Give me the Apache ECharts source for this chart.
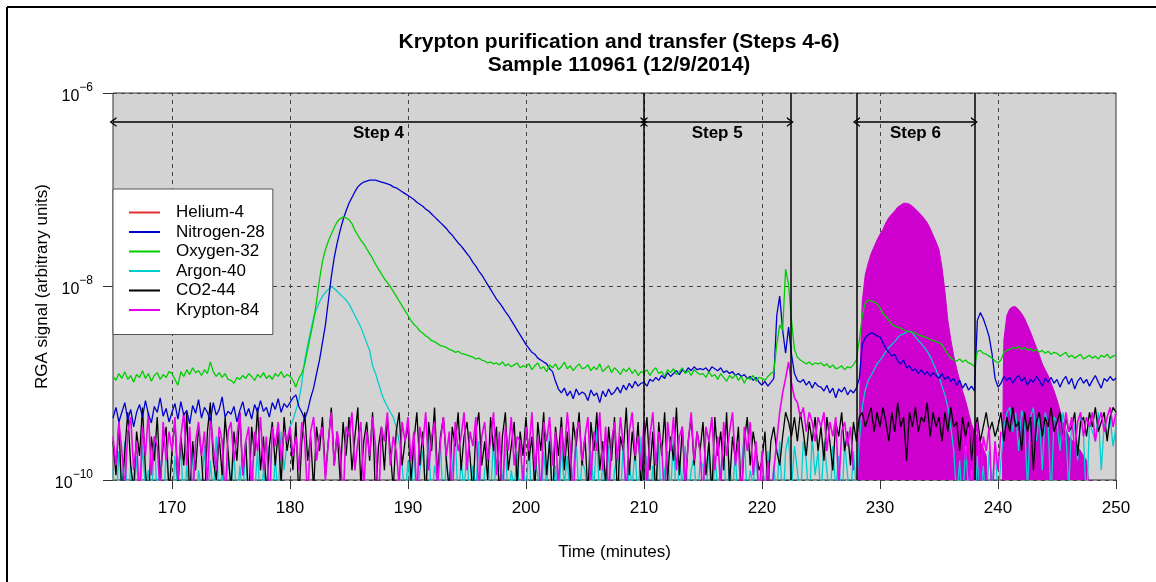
<!DOCTYPE html>
<html>
<head>
<meta charset="utf-8">
<script src="https://cdn.jsdelivr.net/npm/echarts@6/dist/echarts.min.js"></script>
<style>
  html, body { margin: 0; padding: 0; background: #fff; }
  #chart { width: 1156px; height: 582px; }
</style>
</head>
<body>
<div id="chart"></div>
<script>
// sampling of the RGA scans: one reading every quarter minute from 165 to 250 min
const startMinute = 165
const stepMinute = 0.25

// series values, stored as log10 of the signal (one row = 5 minutes)
const heliumLog = []

const nitrogenLog = [
  -9.36,-9.25,-9.4,-9.3,-9.2,-9.38,-9.27,-9.45,-9.3,-9.22,-9.35,-9.18,-9.32,-9.41,-9.24,-9.3,-9.15,-9.34,-9.26,-9.4, //165
  -9.3,-9.21,-9.37,-9.19,-9.33,-9.28,-9.42,-9.23,-9.31,-9.17,-9.36,-9.25,-9.3,-9.39,-9.2,-9.33,-9.27,-9.14,-9.35,-9.29, //170
  -9.32,-9.24,-9.4,-9.28,-9.19,-9.34,-9.26,-9.37,-9.22,-9.3,-9.18,-9.29,-9.25,-9.35,-9.2,-9.27,-9.16,-9.3,-9.21,-9.25, //175
  -9.2,-9.15,-9.12,-9.24,-9.3,-9.37,-9.28,-9.15,-9.05,-8.9,-8.76,-8.58,-8.4,-8.15,-7.9,-7.7,-7.55,-7.42,-7.31,-7.22, //180
  -7.14,-7.08,-7.02,-6.97,-6.94,-6.92,-6.91,-6.9,-6.9,-6.9,-6.91,-6.92,-6.93,-6.94,-6.95,-6.97,-6.98,-7.0,-7.02,-7.04, //185
  -7.06,-7.08,-7.1,-7.13,-7.15,-7.17,-7.2,-7.22,-7.25,-7.28,-7.31,-7.34,-7.37,-7.4,-7.44,-7.47,-7.51,-7.55,-7.58,-7.62, //190
  -7.66,-7.7,-7.75,-7.79,-7.84,-7.88,-7.93,-7.98,-8.03,-8.08,-8.13,-8.17,-8.21,-8.26,-8.3,-8.35,-8.4,-8.45,-8.5,-8.55, //195
  -8.6,-8.64,-8.68,-8.7,-8.74,-8.76,-8.78,-8.8,-8.85,-8.88,-8.98,-9.06,-9.1,-9.05,-9.13,-9.08,-9.16,-9.06,-9.12,-9.09, //200
  -9.11,-9.18,-9.07,-9.13,-9.1,-9.2,-9.08,-9.14,-9.06,-9.12,-9.09,-9.04,-9.1,-9.02,-9.07,-9.0,-9.05,-8.98,-9.03,-9.0, //205
  -8.99,-9.03,-8.96,-8.98,-8.94,-8.97,-8.92,-8.95,-8.89,-8.93,-8.9,-8.87,-8.91,-8.86,-8.89,-8.84,-8.87,-8.83,-8.86,-8.85, //210
  -8.86,-8.84,-8.88,-8.83,-8.85,-8.87,-8.84,-8.89,-8.87,-8.9,-8.88,-8.92,-8.9,-8.93,-8.91,-8.95,-8.93,-8.97,-8.94,-8.99, //215
  -9.02,-8.98,-9.03,-8.99,-8.95,-8.3,-8.1,-8.45,-8.69,-8.42,-8.7,-8.9,-8.97,-8.99,-8.96,-9.02,-8.98,-9.05,-8.99,-9.03, //220
  -9.04,-9.08,-9.02,-9.1,-9.05,-9.15,-9.06,-9.09,-9.04,-9.12,-9.07,-9.1,-9.05,-8.95,-8.6,-8.53,-8.5,-8.48,-8.49,-8.51, //225
  -8.52,-8.58,-8.64,-8.68,-8.72,-8.7,-8.77,-8.8,-8.76,-8.84,-8.82,-8.87,-8.85,-8.9,-8.86,-8.91,-8.88,-8.93,-8.89,-8.92, //230
  -8.95,-8.9,-8.96,-8.93,-8.98,-8.95,-9.02,-8.97,-9.05,-9.0,-9.07,-9.03,-9.08,-8.35,-8.27,-8.33,-8.42,-8.52,-8.7,-8.95, //235
  -9.04,-9.0,-8.93,-8.97,-8.94,-9.0,-8.95,-8.92,-8.98,-8.94,-9.02,-8.96,-8.99,-8.93,-8.97,-9.03,-8.95,-8.99,-8.94,-9.0, //240
  -8.96,-9.04,-8.97,-8.93,-9.01,-8.95,-9.06,-8.98,-8.94,-9.0,-8.96,-9.03,-8.97,-8.92,-8.99,-9.05,-8.95,-8.98,-8.93,-8.97, //245
  -8.95
]

const oxygenLog = [
  -8.93,-8.97,-8.9,-8.95,-8.88,-8.96,-8.92,-8.99,-8.91,-8.94,-8.87,-8.95,-8.9,-8.98,-8.92,-8.89,-8.96,-8.91,-8.94,-8.88, //165
  -8.9,-8.96,-9.02,-8.88,-8.93,-8.86,-8.91,-8.84,-8.89,-8.87,-8.92,-8.86,-8.9,-8.78,-8.88,-8.93,-8.89,-8.94,-8.9,-8.96, //170
  -8.97,-9.0,-8.94,-8.96,-8.92,-8.95,-8.9,-8.93,-8.97,-8.91,-8.94,-8.89,-8.95,-8.92,-8.96,-8.9,-8.93,-8.88,-8.94,-8.91, //175
  -8.93,-8.97,-9.04,-8.95,-8.9,-8.8,-8.65,-8.5,-8.35,-8.15,-7.93,-7.74,-7.62,-7.53,-7.46,-7.39,-7.33,-7.3,-7.28,-7.29, //180
  -7.31,-7.35,-7.42,-7.47,-7.52,-7.56,-7.61,-7.66,-7.71,-7.77,-7.82,-7.87,-7.92,-7.96,-8.0,-8.05,-8.1,-8.15,-8.2,-8.25, //185
  -8.3,-8.35,-8.39,-8.42,-8.46,-8.48,-8.51,-8.53,-8.56,-8.57,-8.59,-8.61,-8.62,-8.63,-8.65,-8.66,-8.68,-8.67,-8.69,-8.7, //190
  -8.71,-8.72,-8.73,-8.75,-8.74,-8.76,-8.77,-8.79,-8.78,-8.8,-8.79,-8.81,-8.78,-8.82,-8.8,-8.83,-8.81,-8.79,-8.84,-8.82, //195
  -8.83,-8.8,-8.86,-8.82,-8.79,-8.85,-8.83,-8.88,-8.81,-8.84,-8.8,-8.86,-8.83,-8.78,-8.85,-8.82,-8.87,-8.83,-8.8,-8.85, //200
  -8.84,-8.81,-8.87,-8.83,-8.86,-8.8,-8.88,-8.85,-8.82,-8.89,-8.84,-8.87,-8.91,-8.85,-8.88,-8.84,-8.9,-8.86,-8.92,-8.88, //205
  -8.89,-8.86,-8.92,-8.87,-8.84,-8.9,-8.88,-8.93,-8.86,-8.89,-8.85,-8.91,-8.88,-8.84,-8.9,-8.87,-8.92,-8.86,-8.89,-8.91, //210
  -8.9,-8.94,-8.88,-8.93,-8.91,-8.96,-8.9,-8.94,-8.98,-8.92,-8.95,-8.91,-8.97,-8.93,-9.0,-8.94,-8.96,-8.92,-8.98,-8.94, //215
  -8.95,-8.97,-8.93,-8.9,-8.88,-8.6,-8.4,-8.45,-7.82,-7.98,-8.35,-8.65,-8.73,-8.76,-8.78,-8.8,-8.78,-8.81,-8.79,-8.8, //220
  -8.79,-8.82,-8.8,-8.84,-8.81,-8.85,-8.84,-8.82,-8.86,-8.83,-8.84,-8.81,-8.76,-8.55,-8.3,-8.17,-8.14,-8.15,-8.16,-8.18, //225
  -8.22,-8.28,-8.31,-8.35,-8.39,-8.41,-8.42,-8.43,-8.45,-8.46,-8.47,-8.47,-8.48,-8.5,-8.51,-8.52,-8.53,-8.55,-8.56,-8.57, //230
  -8.58,-8.6,-8.65,-8.7,-8.74,-8.76,-8.77,-8.75,-8.78,-8.76,-8.79,-8.8,-8.83,-8.67,-8.66,-8.69,-8.7,-8.72,-8.74,-8.77, //235
  -8.79,-8.76,-8.68,-8.66,-8.65,-8.63,-8.64,-8.62,-8.65,-8.63,-8.66,-8.64,-8.67,-8.65,-8.68,-8.66,-8.69,-8.67,-8.7,-8.68, //240
  -8.69,-8.72,-8.7,-8.68,-8.73,-8.71,-8.74,-8.72,-8.7,-8.75,-8.73,-8.71,-8.74,-8.72,-8.75,-8.71,-8.73,-8.7,-8.74,-8.72, //245
  -8.71
]

const argonLog = [
  -9.9,-10.3,-9.7,-10.1,-9.6,-10.4,-9.85,-10.2,-9.75,-10.35,-9.65,-10.1,-9.9,-10.3,-9.55,-10.2,-9.8,-10.4,-9.7,-10.05, //165
  -10.3,-9.75,-10.15,-9.6,-10.4,-9.85,-10.2,-9.7,-10.3,-9.9,-10.1,-9.65,-10.35,-9.8,-10.2,-9.55,-10.25,-9.9,-10.4,-9.75, //170
  -10.1,-9.7,-10.3,-9.85,-10.2,-9.6,-10.4,-9.8,-10.15,-9.7,-10.3,-9.9,-10.1,-9.65,-10.35,-9.75,-10.2,-9.5,-9.9,-9.6, //175
  -9.45,-9.38,-9.28,-9.18,-9.0,-8.76,-8.6,-8.46,-8.32,-8.23,-8.16,-8.1,-8.06,-8.03,-8.0,-8.02,-8.05,-8.08,-8.11,-8.14, //180
  -8.18,-8.24,-8.3,-8.36,-8.42,-8.5,-8.58,-8.66,-8.82,-8.9,-9.0,-9.1,-9.18,-9.24,-9.3,-9.35,-9.45,-9.6,-9.85,-10.2, //185
  -9.8,-10.2,-9.65,-10.35,-9.9,-9.7,-10.1,-9.55,-10.3,-9.85,-10.05,-9.6,-10.4,-9.75,-10.15,-9.9,-9.5,-10.25,-9.8,-10.1, //190
  -9.7,-10.3,-9.85,-10.1,-9.6,-10.4,-9.9,-9.75,-10.2,-9.55,-10.35,-9.8,-10.0,-9.65,-10.25,-9.9,-10.1,-9.7,-10.3,-9.85, //195
  -10.15,-9.6,-10.3,-9.8,-9.95,-10.4,-9.7,-10.1,-9.5,-10.2,-9.85,-10.35,-9.65,-10.05,-9.75,-10.3,-9.9,-9.6,-10.2,-9.8, //200
  -9.9,-10.25,-9.7,-10.1,-9.45,-10.3,-9.8,-10.15,-9.65,-10.4,-9.9,-9.75,-10.2,-9.6,-10.35,-9.85,-10.05,-9.7,-10.25,-9.55, //205
  -10.1,-9.75,-10.3,-9.85,-10.2,-9.6,-10.4,-9.9,-9.7,-10.15,-9.55,-10.3,-9.8,-10.05,-9.65,-10.25,-9.9,-9.75,-10.35,-9.8, //210
  -9.85,-10.2,-9.65,-10.35,-9.75,-10.1,-9.9,-9.6,-10.3,-9.8,-10.15,-9.7,-10.4,-9.85,-9.55,-10.2,-9.9,-10.05,-9.7,-10.3, //215
  -9.8,-10.1,-9.7,-10.3,-9.85,-10.2,-9.6,-10.35,-9.7,-9.55,-10.1,-9.65,-9.9,-10.25,-9.6,-9.8,-10.3,-9.55,-9.95,-9.7, //220
  -10.2,-9.6,-9.9,-10.3,-9.65,-10.1,-9.75,-10.35,-9.6,-9.95,-10.25,-9.7,-10.1,-9.6,-9.24,-9.07,-8.97,-8.92,-8.86,-8.8, //225
  -8.76,-8.72,-8.67,-8.63,-8.6,-8.57,-8.53,-8.5,-8.49,-8.47,-8.46,-8.48,-8.52,-8.56,-8.59,-8.63,-8.67,-8.72,-8.79,-8.86, //230
  -8.93,-9.03,-9.12,-9.25,-9.45,-9.7,-10.2,-9.8,-10.3,-9.65,-10.1,-9.9,-10.4,-9.75,-10.2,-9.85,-10.3,-9.7,-10.1,-9.6, //235
  -10.2,-9.8,-9.45,-9.3,-9.25,-9.5,-9.3,-9.7,-9.28,-9.4,-10.1,-9.35,-9.25,-9.6,-9.32,-9.9,-9.3,-9.45,-10.2,-9.35, //240
  -9.4,-9.7,-9.3,-9.5,-10.1,-9.38,-9.45,-9.8,-9.35,-9.55,-10.3,-9.4,-9.5,-9.6,-9.3,-9.9,-9.42,-9.55,-9.35,-9.65, //245
  -9.45
]

const co2Log = [
  -9.6,-9.95,-9.4,-10.2,-9.7,-9.3,-9.85,-10.1,-9.5,-9.75,-9.25,-9.9,-10.3,-9.55,-9.8,-9.35,-10.0,-9.65,-9.45,-10.15, //165
  -9.7,-9.4,-10.05,-9.55,-9.85,-9.3,-10.2,-9.6,-9.9,-9.45,-9.75,-10.3,-9.5,-9.2,-9.8,-10.0,-9.55,-9.95,-9.35,-9.7, //170
  -10.1,-9.5,-9.8,-9.3,-9.95,-9.6,-10.25,-9.45,-9.75,-9.25,-9.9,-9.55,-10.15,-9.65,-9.4,-9.85,-9.5,-10.05,-9.35,-9.7, //175
  -9.5,-9.9,-9.4,-10.2,-9.6,-9.3,-9.8,-9.55,-10.1,-9.45,-9.7,-9.35,-9.95,-9.6,-9.25,-9.85,-9.5,-10.0,-9.4,-9.75, //180
  -9.35,-9.9,-9.55,-9.25,-10.05,-9.6,-9.4,-9.8,-9.3,-10.2,-9.65,-9.45,-9.9,-9.35,-9.7,-10.1,-9.5,-9.3,-9.85,-9.6, //185
  -9.45,-10.0,-9.6,-9.3,-9.85,-9.5,-10.25,-9.4,-9.7,-9.25,-9.95,-9.55,-9.35,-9.8,-10.1,-9.45,-9.65,-9.3,-9.9,-9.55, //190
  -9.4,-9.75,-10.15,-9.5,-9.3,-9.85,-9.6,-10.0,-9.35,-9.7,-9.45,-10.2,-9.55,-9.3,-9.9,-9.65,-9.4,-10.05,-9.5,-9.75, //195
  -9.35,-9.8,-9.55,-10.1,-9.4,-9.7,-9.3,-9.95,-9.6,-10.25,-9.45,-9.75,-9.35,-9.9,-9.5,-10.0,-9.4,-9.65,-9.3,-9.85, //200
  -9.55,-10.15,-9.4,-9.7,-9.3,-9.9,-9.6,-10.05,-9.45,-9.8,-9.35,-10.2,-9.55,-9.7,-9.25,-9.95,-9.5,-9.8,-9.4,-10.1, //205
  -9.6,-9.35,-9.9,-9.5,-10.2,-9.4,-9.75,-9.3,-10.0,-9.55,-9.8,-9.25,-9.95,-9.45,-10.1,-9.6,-9.35,-9.85,-9.5,-9.7, //210
  -9.4,-9.95,-9.6,-10.15,-9.35,-9.75,-9.5,-9.9,-9.3,-10.05,-9.55,-9.8,-9.45,-10.2,-9.6,-9.35,-9.85,-9.5,-9.7,-9.9, //215
  -9.8,-9.5,-10.1,-9.6,-9.45,-9.7,-9.85,-9.55,-9.3,-9.4,-9.55,-9.35,-9.6,-9.3,-9.5,-9.75,-9.4,-9.6,-9.35,-9.7, //220
  -9.45,-9.8,-9.35,-9.6,-9.9,-9.4,-9.55,-9.3,-9.7,-9.5,-9.85,-9.4,-9.6,-9.35,-9.3,-9.45,-9.35,-9.25,-9.5,-9.3, //225
  -9.45,-9.25,-9.4,-9.6,-9.3,-9.5,-9.2,-9.45,-9.35,-9.8,-9.3,-9.45,-9.25,-9.5,-9.35,-9.4,-9.2,-9.55,-9.3,-9.45, //230
  -9.35,-9.6,-9.3,-9.5,-9.25,-9.45,-9.4,-9.7,-9.35,-9.55,-9.4,-9.8,-9.5,-9.35,-9.6,-9.45,-9.3,-9.5,-9.4,-9.55, //235
  -9.45,-9.3,-9.6,-9.35,-9.5,-9.25,-9.45,-9.4,-9.7,-9.3,-9.5,-9.35,-9.9,-9.4,-9.3,-9.55,-9.35,-9.45,-9.25,-9.5, //240
  -9.4,-9.3,-9.6,-9.35,-9.5,-9.45,-9.3,-9.75,-9.4,-9.35,-9.55,-9.3,-9.45,-9.25,-9.5,-9.4,-9.3,-9.6,-9.35,-9.25, //245
  -9.3
]

// krypton noise trace; the two krypton peaks are kept separately below
const kryptonLog = [
  -9.55,-9.85,-9.4,-9.7,-10.1,-9.5,-9.35,-9.9,-9.6,-10.2,-9.45,-9.75,-9.3,-9.95,-9.55,-9.65,-10.15,-9.4,-9.8,-9.5, //165
  -9.7,-9.35,-10.0,-9.55,-9.3,-9.85,-9.45,-10.25,-9.6,-9.4,-9.75,-9.5,-10.05,-9.35,-9.65,-9.9,-9.45,-9.6,-10.2,-9.5, //170
  -9.4,-9.8,-9.55,-9.3,-9.95,-9.6,-9.45,-10.15,-9.5,-9.7,-9.35,-9.9,-9.55,-10.3,-9.45,-9.65,-9.4,-9.8,-9.5,-9.6, //175
  -9.45,-9.75,-9.55,-9.9,-9.4,-9.6,-10.2,-9.5,-9.35,-9.8,-9.55,-9.45,-10.0,-9.6,-9.3,-9.85,-9.5,-9.7,-10.25,-9.45, //180
  -9.55,-9.3,-9.9,-9.6,-9.4,-10.1,-9.5,-9.75,-9.35,-9.65,-10.3,-9.45,-9.6,-9.3,-9.85,-9.55,-9.7,-10.05,-9.4,-9.6, //185
  -9.35,-9.8,-9.5,-10.2,-9.45,-9.65,-9.3,-9.9,-9.55,-9.4,-10.1,-9.6,-9.35,-9.75,-9.5,-10.25,-9.4,-9.7,-9.55,-9.3, //190
  -9.9,-9.5,-9.65,-9.35,-10.15,-9.55,-9.4,-9.8,-9.6,-9.3,-9.95,-9.5,-10.3,-9.45,-9.7,-9.35,-9.85,-9.55,-9.6,-10.05, //195
  -9.45,-9.7,-9.3,-9.9,-9.55,-10.2,-9.4,-9.6,-9.35,-9.85,-9.5,-10.1,-9.45,-9.75,-9.3,-9.65,-10.25,-9.5,-9.4,-9.8, //200
  -9.55,-9.35,-10.0,-9.5,-9.7,-9.3,-9.9,-9.45,-10.2,-9.6,-9.4,-9.8,-9.35,-9.65,-10.15,-9.5,-9.3,-9.75,-9.55,-9.9, //205
  -9.4,-10.1,-9.55,-9.3,-9.85,-9.5,-9.65,-10.25,-9.4,-9.7,-9.35,-9.9,-9.55,-9.45,-10.05,-9.6,-9.3,-9.8,-9.5,-9.7, //210
  -10.2,-9.45,-9.6,-9.35,-9.9,-9.55,-10.1,-9.4,-9.75,-9.5,-9.3,-9.85,-9.6,-10.3,-9.45,-9.7,-9.4,-9.95,-9.6,-10.2, //215
  -9.7,-10.3,-9.8,-10.25,-9.9,-9.6,-9.3,-9.1,-8.95,-8.78,-9.0,-9.15,-9.2,-9.35,-9.25,-9.5,-9.3,-9.4,-9.6,-9.35, //220
  -9.45,-9.3,-9.7,-9.4,-9.55,-9.35,-10.1,-9.5,-9.4,-9.65,-9.45,-9.9,null,null,null,null,null,null,null,null, //225
  null,null,null,null,null,null,null,null,null,null,null,null,null,null,null,null,null,null,null,null, //230
  null,null,null,null,null,null,null,null,-9.5,-9.8,-9.45,-10.2,-9.6,-9.4,-10.1,-9.55,-9.7,-9.45,-10.25,-9.6, //235
  -9.9,-9.5,null,null,null,null,null,null,null,null,null,null,null,null,null,null,null,null,null,null, //240
  null,-9.4,-9.6,-9.3,-9.5,-9.35,-9.7,-9.4,-9.3,-9.55,-9.35,-9.45,-9.3,-9.6,-9.4,-9.3,-9.5,-9.35,-9.25,-9.45, //245
  -9.3
]

// krypton peaks (Step 6 and after): upper envelope of the dense signal
const kryptonPeakMinutes = [
  228.1,228.25,228.4,228.5,228.75,229,229.25,229.5,229.75,230,230.25,230.5,230.75,231,231.25,231.5,231.75,232,232.25,232.5,
  232.75,233,233.25,233.5,233.75,234,234.25,234.5,234.75,235,235.25,235.5,235.75,236,236.25,236.5,236.75,237,237.25,237.5,
  237.75,238,238.5,239,239.2,239.8,
  240.35,240.45,240.5,240.75,241,241.25,241.5,241.75,242,242.25,242.5,242.75,243,243.25,243.5,243.75,244,244.25,244.5,244.75,
  245,245.25,245.5,246,246.5,247,247.5,247.9
]
const kryptonPeakLog = [
  -10.3,-9.3,-8.5,-8.15,-7.88,-7.76,-7.66,-7.59,-7.52,-7.46,-7.41,-7.34,-7.29,-7.25,-7.22,-7.18,-7.16,-7.14,-7.14,-7.15,
  -7.17,-7.2,-7.23,-7.26,-7.3,-7.34,-7.4,-7.47,-7.54,-7.62,-7.8,-8.05,-8.35,-8.55,-8.72,-8.85,-8.97,-9.08,-9.18,-9.3,
  -9.42,-9.5,-9.6,-9.75,-10.3,null,
  -10.3,-8.9,-8.55,-8.3,-8.23,-8.21,-8.21,-8.24,-8.28,-8.33,-8.4,-8.47,-8.55,-8.63,-8.71,-8.8,-8.86,-8.92,-9.0,-9.08,
  -9.17,-9.28,-9.4,-9.55,-9.62,-9.7,-9.8,-10.3
]

// axis ticks and annotations
const minuteTicks = [170, 180, 190, 200, 210, 220, 230, 240, 250]
const gridMinutes = [170, 180, 190, 200, 210, 220, 230, 240]
const signalTicks = [1e-10, 1e-8, 1e-6]
const stepBounds = [210, 222.4, 228, 238]
const steps = [
  {name: 'Step 4', from: 165, to: 210},
  {name: 'Step 5', from: 210, to: 222.4},
  {name: 'Step 6', from: 228, to: 238}
]
const arrowLevel = 5e-7

const toPairs = logs => logs.map((v, i) => [startMinute + i * stepMinute, v === null ? null : Math.pow(10, v)])

const font = 'Liberation Sans, Arial, sans-serif'
const chevron = 'path://M0,10 L5,0 L10,10 L8.4,10 L5,3.2 L1.6,10 Z'

const lineSeries = (name, color, data, width) => ({
  name: name,
  type: 'line',
  data: data,
  symbol: 'none',
  showSymbol: false,
  lineStyle: {color: color, width: width || 1.3},
  itemStyle: {color: color},
  animation: false
})

const chart = echarts.init(document.getElementById('chart'))

const helium = lineSeries('Helium-4', '#e03030', toPairs(heliumLog))
// vertical dashed grid, drawn under the data
helium.markLine = {
  silent: true,
  z: 1,
  symbol: 'none',
  animation: false,
  label: {show: false},
  lineStyle: {type: [4, 4], color: '#444', width: 1},
  data: gridMinutes.map(m => ({xAxis: m}))
}

const kryptonPeaks = {
  name: 'Krypton peaks',
  type: 'line',
  data: kryptonPeakMinutes.map((m, i) => [m, kryptonPeakLog[i] === null ? null : Math.pow(10, kryptonPeakLog[i])]),
  symbol: 'none',
  showSymbol: false,
  lineStyle: {color: '#cd00cd', width: 1},
  itemStyle: {color: '#cd00cd'},
  areaStyle: {color: '#cd00cd', opacity: 1, origin: 'start'},
  animation: false
}

const stepLines = {
  name: 'step bounds',
  type: 'line',
  data: [],
  markLine: {
    silent: true,
    z: 6,
    symbol: 'none',
    animation: false,
    label: {show: false},
    lineStyle: {type: 'solid', color: '#000', width: 1.5},
    data: stepBounds.map(m => ({xAxis: m}))
  }
}

const stepArrows = {
  name: 'step arrows',
  type: 'line',
  data: [],
  markLine: {
    silent: true,
    z: 6,
    symbol: [chevron, chevron],
    symbolSize: [10, 7],
    animation: false,
    lineStyle: {type: 'solid', color: '#000', width: 1.5},
    label: {
      show: true,
      position: 'insideMiddleBottom',
      formatter: '{b}',
      distance: 3,
      color: '#000',
      fontFamily: font,
      fontWeight: 'bold',
      fontSize: 17
    },
    data: steps.map(s => [
      {name: s.name, coord: [s.from, arrowLevel]},
      {coord: [s.to, arrowLevel]}
    ])
  }
}

const option = {
  animation: false,
  backgroundColor: '#fff',
  textStyle: {fontFamily: font},
  title: {
    text: 'Krypton purification and transfer (Steps 4-6)\nSample 110961 (12/9/2014)',
    left: 614,
    top: 26,
    textAlign: 'center',
    textStyle: {fontFamily: font, fontWeight: 'bold', fontSize: 21, lineHeight: 23, color: '#000'}
  },
  legend: {
    data: ['Helium-4', 'Nitrogen-28', 'Oxygen-32', 'Argon-40', 'CO2-44', 'Krypton-84'],
    orient: 'vertical',
    left: 113,
    top: 189,
    padding: [15, 8, 16, 16],
    icon: 'rect',
    itemWidth: 31,
    itemHeight: 2,
    itemGap: 2.5,
    backgroundColor: '#fff',
    borderColor: '#555',
    borderWidth: 1,
    borderRadius: 0,
    selectedMode: false,
    textStyle: {fontFamily: font, fontSize: 17, lineHeight: 17, color: '#000', padding: [0, 0, 0, 11]}
  },
  grid: {
    left: 113,
    right: 40,
    top: 93,
    bottom: 102,
    show: true,
    backgroundColor: '#d3d3d3',
    borderColor: '#333',
    borderWidth: 1
  },
  xAxis: {
    type: 'value',
    min: 165,
    max: 250,
    name: 'Time (minutes)',
    nameLocation: 'middle',
    nameGap: 64,
    nameMoveOverlap: false,
    nameTextStyle: {fontFamily: font, fontSize: 17, color: '#000'},
    axisLine: {show: false},
    axisTick: {show: true, length: 9, customValues: minuteTicks, lineStyle: {color: '#333'}},
    axisLabel: {customValues: minuteTicks, margin: 20, fontFamily: font, fontSize: 17, color: '#000'},
    splitLine: {show: false}
  },
  yAxis: {
    type: 'log',
    logBase: 10,
    min: 1e-10,
    max: 1e-6,
    name: 'RGA signal (arbitrary units)',
    nameLocation: 'middle',
    nameGap: 62,
    nameMoveOverlap: false,
    nameTextStyle: {fontFamily: font, fontSize: 17, color: '#000'},
    axisLine: {show: false},
    axisTick: {show: true, length: 10, customValues: signalTicks, lineStyle: {color: '#333'}},
    axisLabel: {
      customValues: signalTicks,
      margin: 20,
      formatter: v => '{b|10}{s|\u2212' + Math.round(-Math.log10(v)) + '}',
      rich: {
        b: {fontFamily: font, fontSize: 16, color: '#000', verticalAlign: 'bottom'},
        s: {fontFamily: font, fontSize: 12, color: '#000', verticalAlign: 'top', padding: [0, 0, 11, 0]}
      }
    },
    splitLine: {show: true, lineStyle: {type: [4, 4], color: '#444', width: 1}}
  },
  graphic: [
    {type: 'line', silent: true, shape: {x1: 7, y1: 7, x2: 7, y2: 582}, style: {stroke: '#000', lineWidth: 2}},
    {type: 'line', silent: true, shape: {x1: 7, y1: 7, x2: 1156, y2: 7}, style: {stroke: '#000', lineWidth: 2}}
  ],
  series: [
    helium,
    kryptonPeaks,
    lineSeries('Argon-40', '#00cdcd', toPairs(argonLog)),
    lineSeries('CO2-44', '#000000', toPairs(co2Log)),
    lineSeries('Krypton-84', '#ee00ee', toPairs(kryptonLog), 1.6),
    lineSeries('Nitrogen-28', '#0000cd', toPairs(nitrogenLog)),
    lineSeries('Oxygen-32', '#00cd00', toPairs(oxygenLog)),
    stepLines,
    stepArrows
  ]
}

chart.setOption(option)
</script>
</body>
</html>
